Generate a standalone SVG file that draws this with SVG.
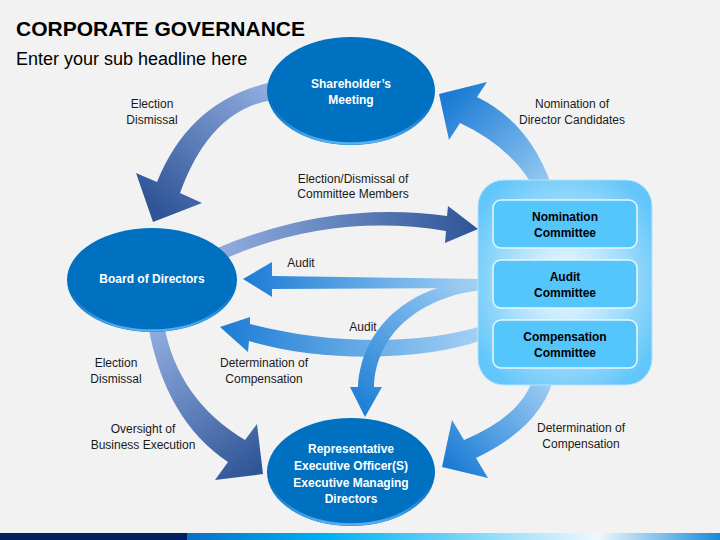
<svg xmlns="http://www.w3.org/2000/svg" width="720" height="540" viewBox="0 0 720 540">
<style>
.title{font-family:"Liberation Sans",Arial,sans-serif;font-weight:bold;font-size:21px;fill:#000}
.sub{font-family:"Liberation Sans",Arial,sans-serif;font-size:18px;fill:#000}
.lbl{font-family:"Liberation Sans",Arial,sans-serif;font-size:12px;fill:#1a1a1a;text-anchor:middle}
.nt{font-family:"Liberation Sans",Arial,sans-serif;font-size:12px;font-weight:bold;fill:#fff;text-anchor:middle}
.ct{font-family:"Liberation Sans",Arial,sans-serif;font-size:12px;font-weight:bold;fill:#000;text-anchor:middle}
.node{fill:#0070c0}
.rim{fill:none;stroke:url(#rim);stroke-width:2.5}
.box{fill:#55c6fb;stroke:#e6f7ff;stroke-width:1.5}
</style>
<defs>
<linearGradient id="rim" x1="0" y1="0" x2="0" y2="1">
<stop offset="0" stop-color="#3a9ae8" stop-opacity="0"/>
<stop offset="0.6" stop-color="#3a9ae8" stop-opacity="0"/>
<stop offset="1" stop-color="#5ab0f5" stop-opacity="1"/>
</linearGradient>
<radialGradient id="cont" cx="0.5" cy="0.5" r="0.6">
<stop offset="0" stop-color="#f4fbff"/>
<stop offset="0.55" stop-color="#a8defc"/>
<stop offset="1" stop-color="#62c6fa"/>
</radialGradient>
<linearGradient id="bar" x1="0" y1="0" x2="720" y2="0" gradientUnits="userSpaceOnUse">
<stop offset="0" stop-color="#002060"/>
<stop offset="0.26" stop-color="#002060"/>
<stop offset="0.26" stop-color="#0a70c4"/>
<stop offset="0.45" stop-color="#00b0f0"/>
<stop offset="0.83" stop-color="#eef8fe"/>
<stop offset="1" stop-color="#1a8ad8"/>
</linearGradient>
<linearGradient id="g1" x1="267" y1="90" x2="160" y2="212" gradientUnits="userSpaceOnUse">
<stop offset="0" stop-color="#8fabde"/><stop offset="1" stop-color="#2f5597"/>
</linearGradient>
<linearGradient id="g2" x1="550" y1="198" x2="448" y2="100" gradientUnits="userSpaceOnUse">
<stop offset="0" stop-color="#a2d0f4"/><stop offset="1" stop-color="#1c7cd5"/>
</linearGradient>
<linearGradient id="g3" x1="222" y1="250" x2="478" y2="229" gradientUnits="userSpaceOnUse">
<stop offset="0" stop-color="#8fabde"/><stop offset="1" stop-color="#2f5597"/>
</linearGradient>
<linearGradient id="g4" x1="478" y1="283" x2="243" y2="279" gradientUnits="userSpaceOnUse">
<stop offset="0" stop-color="#a2d0f4"/><stop offset="1" stop-color="#1c7cd5"/>
</linearGradient>
<linearGradient id="g5" x1="478" y1="285" x2="365" y2="417" gradientUnits="userSpaceOnUse">
<stop offset="0" stop-color="#a2d0f4"/><stop offset="1" stop-color="#1c7cd5"/>
</linearGradient>
<linearGradient id="g6" x1="478" y1="333" x2="220" y2="330" gradientUnits="userSpaceOnUse">
<stop offset="0" stop-color="#a2d0f4"/><stop offset="1" stop-color="#1c7cd5"/>
</linearGradient>
<linearGradient id="g7" x1="156" y1="332" x2="255" y2="472" gradientUnits="userSpaceOnUse">
<stop offset="0" stop-color="#8fabde"/><stop offset="1" stop-color="#2f5597"/>
</linearGradient>
<linearGradient id="g8" x1="545" y1="372" x2="450" y2="466" gradientUnits="userSpaceOnUse">
<stop offset="0" stop-color="#a2d0f4"/><stop offset="1" stop-color="#1c7cd5"/>
</linearGradient>
</defs>

<rect x="0" y="0" width="720" height="540" fill="#f2f2f2"/>
<rect x="0" y="533" width="720" height="7" fill="url(#bar)"/>

<text class="title" x="16" y="36">CORPORATE GOVERNANCE</text>
<text class="sub" x="16" y="65">Enter your sub headline here</text>

<g id="connectors">
<path id="c1" fill="url(#g1)" d="M 272,82 Q 190,100 157,182 L 136,173 L 153,222 L 202,203 L 180,193 Q 210,110 272,100 Z"/>
<path id="c2" fill="url(#g2)" d="M 556,200 Q 535,125 477,97 L 487,82 L 439,94 L 449,140 L 460,123 Q 518,150 540,200 Z"/>
<path id="c3" fill="url(#g3)" d="M 215,249 Q 330,200 447,216 L 448,206 L 478,229 L 445,243 L 446,231 Q 330,212 222,260 Z"/>
<path id="c4" fill="url(#g4)" d="M 482,279 L 272,276 L 272,262 L 243,279 L 272,297 L 272,289 L 482,288 Z"/>
<path id="c6" fill="url(#g6)" d="M 482,326 C 420,345 330,345 250,324 L 250,317 L 220,327 L 248,352 L 249,341 C 320,362 420,362 482,340 Z"/>
<path id="c5" fill="url(#g5)" d="M 482,280 C 420,282 362,320 358,387 L 350,387 L 365,417 L 382,387 L 374,387 C 376,330 425,296 482,290 Z"/>
<path id="c7" fill="url(#g7)" d="M 164,325 Q 178,400 245,440 L 257,424 L 263,474 L 215,480 L 228,462 Q 165,420 148,325 Z"/>
<path id="c8" fill="url(#g8)" d="M 535,372 Q 525,415 464,440 L 452,420 L 442,467 L 488,478 L 476,458 Q 545,425 555,372 Z"/>
</g>

<g id="shareholders">
<ellipse class="node" cx="351" cy="91" rx="84" ry="54"/>
<ellipse class="rim" cx="351" cy="91" rx="82.5" ry="52.5"/>
<text class="nt" x="351" y="88">Shareholder’s</text>
<text class="nt" x="351" y="104">Meeting</text>
</g>

<g id="board">
<ellipse class="node" cx="152" cy="280" rx="85" ry="52"/>
<ellipse class="rim" cx="152" cy="280" rx="83.5" ry="50.5"/>
<text class="nt" x="152" y="283">Board of Directors</text>
</g>

<g id="representative">
<ellipse class="node" cx="351" cy="472" rx="84" ry="54"/>
<ellipse class="rim" cx="351" cy="472" rx="82.5" ry="52.5"/>
<text class="nt" x="351" y="453">Representative</text>
<text class="nt" x="351" y="470">Executive Officer(S)</text>
<text class="nt" x="351" y="487">Executive Managing</text>
<text class="nt" x="351" y="503">Directors</text>
</g>

<g id="committees">
<rect x="478" y="180" width="174" height="205" rx="26" fill="url(#cont)" stroke="#b6e4fc" stroke-width="1"/>
<g id="nomination">
<rect class="box" x="493" y="200" width="144" height="48" rx="8"/>
<text class="ct" x="565" y="221">Nomination</text>
<text class="ct" x="565" y="237">Committee</text>
</g>
<g id="audit">
<rect class="box" x="493" y="260" width="144" height="48" rx="8"/>
<text class="ct" x="565" y="281">Audit</text>
<text class="ct" x="565" y="297">Committee</text>
</g>
<g id="compensation">
<rect class="box" x="493" y="320" width="144" height="48" rx="8"/>
<text class="ct" x="565" y="341">Compensation</text>
<text class="ct" x="565" y="357">Committee</text>
</g>
</g>

<g id="labels">
<text class="lbl" x="152" y="108">Election</text>
<text class="lbl" x="152" y="124">Dismissal</text>
<text class="lbl" x="353" y="183">Election/Dismissal of</text>
<text class="lbl" x="353" y="198">Committee Members</text>
<text class="lbl" x="572" y="108">Nomination of</text>
<text class="lbl" x="572" y="124">Director Candidates</text>
<text class="lbl" x="301" y="267">Audit</text>
<text class="lbl" x="363" y="331">Audit</text>
<text class="lbl" x="264" y="367">Determination of</text>
<text class="lbl" x="264" y="383">Compensation</text>
<text class="lbl" x="116" y="367">Election</text>
<text class="lbl" x="116" y="383">Dismissal</text>
<text class="lbl" x="143" y="433">Oversight of</text>
<text class="lbl" x="143" y="449">Business Execution</text>
<text class="lbl" x="581" y="432">Determination of</text>
<text class="lbl" x="581" y="448">Compensation</text>
</g>
</svg>
